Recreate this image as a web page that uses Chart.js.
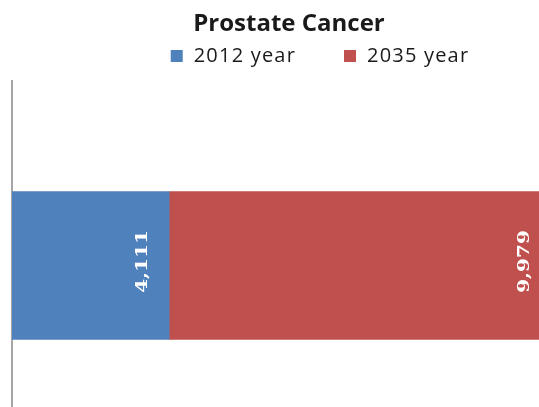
<!DOCTYPE html>
<html>
<head>
<meta charset="utf-8">
<script src="https://cdn.jsdelivr.net/npm/chart.js@4"></script>
<style>
  html, body { margin: 0; padding: 0; background: #fff; }
  #wrap { width: 539px; height: 407px; overflow: hidden; position: relative; }
  #wrap canvas { position: absolute; left: 0; top: 0; }
</style>
</head>
<body>
<div id="wrap"><canvas id="chart" width="578" height="450"></canvas></div>
<script>
// chart data
const categories = ['Prostate Cancer'];
const seriesNames = ['2012 year', '2035 year'];
const values2012 = [4111];
const values2035 = [9979];
const seriesColors = ['#4F81BD', '#C0504D'];
const xMax = 14800;

// legend under the title, drawn by hand so it can sit off-centre
const topLegend = {
    id: 'topLegend',
    afterDraw(chart) {
        const ctx = chart.ctx;
        const items = chart.data.datasets;
        const box = 12, gapText = 11, gapItem = 48, cx = 320, cy = 56;
        ctx.save();
        ctx.font = '20px "Open Sans"';
        ctx.letterSpacing = '1.2px';
        ctx.textBaseline = 'middle';
        const widths = items.map(d => box + gapText + ctx.measureText(d.label).width);
        const total = widths.reduce((a, b) => a + b, 0) + gapItem * (items.length - 1);
        let x = cx - total / 2;
        items.forEach((d, i) => {
            ctx.fillStyle = d.backgroundColor;
            ctx.fillRect(x, cy - box / 2, box, box);
            ctx.fillStyle = '#1a1a1a';
            ctx.fillText(d.label, x + box + gapText, cy);
            x += widths[i] + gapItem;
        });
        ctx.restore();
    }
};

// value labels, rotated, just inside the end of each segment
const barLabels = {
    id: 'barLabels',
    afterDatasetsDraw(chart) {
        const ctx = chart.ctx;
        chart.data.datasets.forEach((ds, i) => {
            chart.getDatasetMeta(i).data.forEach((bar, j) => {
                const text = ds.data[j].toLocaleString('en-US');
                ctx.save();
                ctx.translate(bar.x - 26, bar.y - 4);
                ctx.rotate(-Math.PI / 2);
                ctx.scale(1.25, 1);
                ctx.font = 'bold 16px "DejaVu Serif"';
                ctx.fillStyle = '#ffffff';
                ctx.textAlign = 'center';
                ctx.textBaseline = 'middle';
                ctx.fillText(text, 0, 0);
                ctx.restore();
            });
        });
    }
};

new Chart(document.getElementById('chart'), {
    type: 'bar',
    data: {
        labels: categories,
        datasets: [{
            label: seriesNames[0],
            data: values2012,
            backgroundColor: seriesColors[0],
            barThickness: 148,
            borderWidth: 0
        }, {
            label: seriesNames[1],
            data: values2035,
            backgroundColor: seriesColors[1],
            barThickness: 148,
            borderWidth: 0
        }]
    },
    options: {
        indexAxis: 'y',
        responsive: false,
        animation: false,
        layout: { padding: 0 },
        plugins: {
            legend: { display: false },
            tooltip: { enabled: false },
            title: {
                display: true,
                text: 'Prostate Cancer',
                color: '#1a1a1a',
                font: { family: 'Open Sans', size: 24, weight: 'bold' },
                padding: { top: 9.5, bottom: 42.7 }
            }
        },
        scales: {
            x: {
                display: false,
                stacked: true,
                min: 0,
                max: xMax
            },
            y: {
                stacked: true,
                grid: { display: false, drawTicks: false },
                ticks: { display: false },
                border: { display: true, color: '#a6a6a6', width: 2 },
                afterFit(scale) { scale.width = 12; }
            }
        }
    },
    plugins: [topLegend, barLabels]
});
</script>
</body>
</html>
